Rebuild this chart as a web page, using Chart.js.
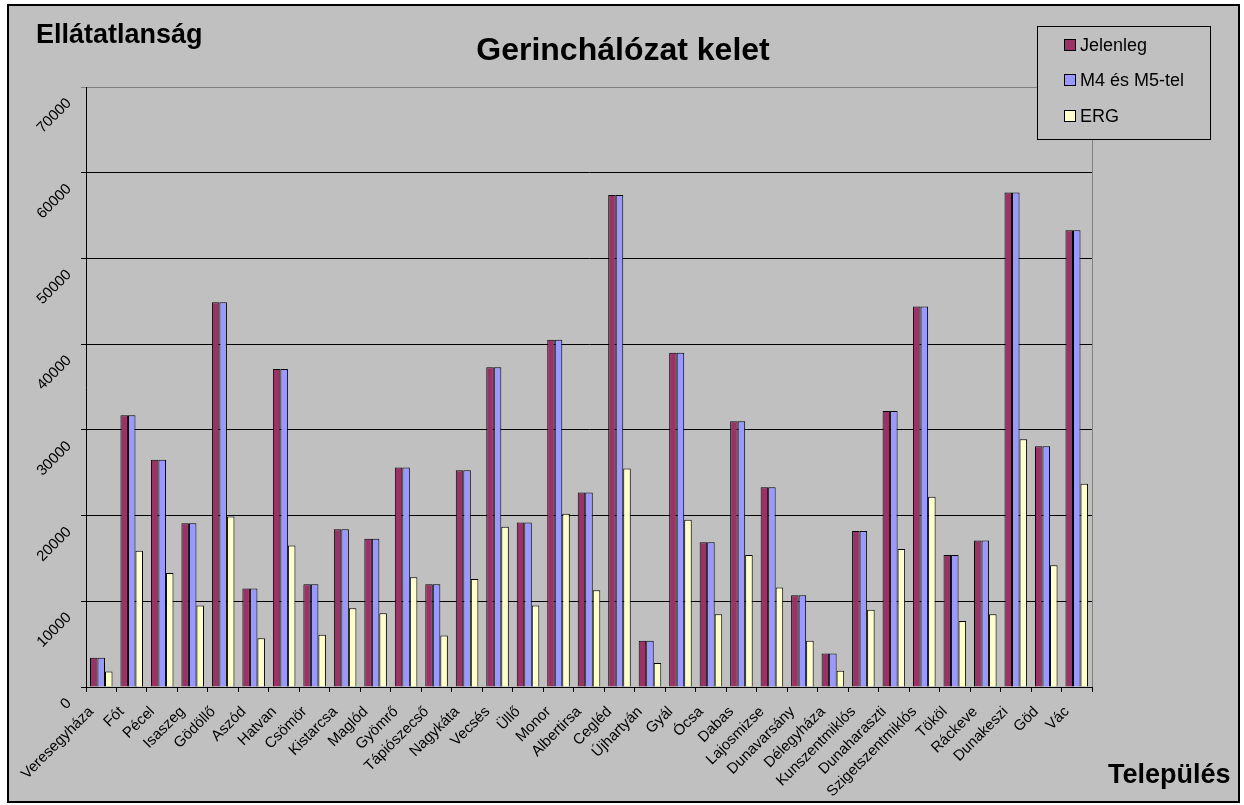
<!DOCTYPE html>
<html>
<head>
<meta charset="utf-8">
<script src="https://cdn.jsdelivr.net/npm/chart.js@4.4.0/dist/chart.umd.min.js"></script>
<style>
  html, body { margin: 0; padding: 0; background: #fff; }
  #wrap { width: 1244px; height: 805px; }
</style>
</head>
<body>
<div id="wrap"><canvas id="chart" width="1244" height="805"></canvas></div>
<script>
const categories = ['Veresegyháza', 'Fót', 'Pécel', 'Isaszeg', 'Gödöllő', 'Aszód', 'Hatvan', 'Csömör',
    'Kistarcsa', 'Maglód', 'Gyömrő', 'Tápiószecső', 'Nagykáta', 'Vecsés', 'Üllő', 'Monor', 'Albertirsa',
    'Cegléd', 'Újhartyán', 'Gyál', 'Ócsa', 'Dabas', 'Lajosmizse', 'Dunavarsány', 'Délegyháza',
    'Kunszentmiklós', 'Dunaharaszti', 'Szigetszentmiklós', 'Tököl', 'Ráckeve', 'Dunakeszi', 'Göd', 'Vác'];

const jelenleg = [3400, 31700, 26500, 19100, 44900, 11500, 37100, 12000, 18400, 17300, 25600, 12000, 25300,
    37300, 19200, 40500, 22700, 57400, 5400, 39000, 16900, 31000, 23300, 10700, 3900, 18200, 32200, 44400,
    15400, 17100, 57700, 28100, 53300];

const m4m5 = [3400, 31700, 26500, 19100, 44900, 11500, 37100, 12000, 18400, 17300, 25600, 12000, 25300,
    37300, 19200, 40500, 22700, 57400, 5400, 39000, 16900, 31000, 23300, 10700, 3900, 18200, 32200, 44400,
    15400, 17100, 57700, 28100, 53300];

const erg = [1800, 15900, 13300, 9500, 19900, 5700, 16500, 6100, 9200, 8600, 12800, 6000, 12600, 18700,
    9500, 20200, 11300, 25500, 2800, 19500, 8500, 15400, 11600, 5400, 1900, 9000, 16100, 22200, 7700,
    8500, 28900, 14200, 23700];

const seriesNames = ['Jelenleg', 'M4 és M5-tel', 'ERG'];
const seriesColors = ['#993366', '#9999FF', '#FFFFCC'];
const yMax = 70000;
const yStep = 10000;

const FONT = "'Liberation Sans', Arial, sans-serif";

// background, frame, titles and the legend box
const decor = {
    id: 'decor',
    beforeDraw(chart) {
        const ctx = chart.ctx;
        ctx.save();
        ctx.fillStyle = '#fff';
        ctx.fillRect(0, 0, chart.width, chart.height);
        ctx.fillStyle = '#C0C0C0';
        ctx.fillRect(8, 5, 1231, 797);
        ctx.strokeStyle = '#000';
        ctx.lineWidth = 2;
        ctx.strokeRect(8, 5, 1231, 797);
        // plot border (grey)
        const a = chart.chartArea;
        ctx.strokeStyle = '#808080';
        ctx.lineWidth = 1;
        ctx.strokeRect(a.left + 0.5, a.top + 0.5, a.right - a.left, a.bottom - a.top);
        ctx.restore();
    },
    afterDraw(chart) {
        const ctx = chart.ctx;
        ctx.save();
        ctx.fillStyle = '#000';
        ctx.textBaseline = 'alphabetic';

        ctx.font = 'bold 32px ' + FONT;
        ctx.textAlign = 'center';
        ctx.fillText('Gerinchálózat kelet', 623, 60);

        ctx.font = 'bold 27px ' + FONT;
        ctx.textAlign = 'left';
        ctx.fillText('Ellátatlanság', 36, 43);
        ctx.fillText('Település', 1108, 783);

        // legend
        ctx.fillStyle = '#C0C0C0';
        ctx.fillRect(1037, 26, 173, 113);
        ctx.strokeStyle = '#000';
        ctx.lineWidth = 1;
        ctx.strokeRect(1037.5, 26.5, 173, 113);
        ctx.font = '18px ' + FONT;
        ctx.textBaseline = 'middle';
        const rows = [45, 80, 116];
        chart.data.datasets.forEach((ds, i) => {
            ctx.fillStyle = ds.backgroundColor;
            ctx.fillRect(1064.5, rows[i] - 5.5, 11, 11);
            ctx.strokeRect(1064.5, rows[i] - 5.5, 11, 11);
            ctx.fillStyle = '#000';
            ctx.fillText(ds.label, 1080, rows[i] + 1);
        });
        ctx.restore();
    }
};

const ctx = document.getElementById('chart').getContext('2d');
const chart = new Chart(ctx, {
    type: 'bar',
    data: {
        labels: categories,
        datasets: [jelenleg, m4m5, erg].map((vals, i) => ({
            label: seriesNames[i],
            data: vals,
            backgroundColor: seriesColors[i],
            borderColor: '#000',
            borderWidth: 1,
            categoryPercentage: 0.74,
            barPercentage: 1.0
        }))
    },
    options: {
        responsive: false,
        animation: false,
        devicePixelRatio: 1,
        layout: { padding: { left: 0, top: 87, right: 152, bottom: 0 } },
        plugins: {
            legend: { display: false },
            title: { display: false },
            tooltip: { enabled: false }
        },
        scales: {
            x: {
                grid: { display: true, drawOnChartArea: false, color: '#000', tickLength: 5, offset: true },
                border: { color: '#000' },
                ticks: {
                    autoSkip: false, minRotation: 45, maxRotation: 45, padding: 11, labelOffset: -10,
                    color: '#000', font: { family: FONT, size: 15 }
                },
                afterFit(scale) { scale.height = 118; }
            },
            y: {
                min: 0,
                max: yMax,
                grid: {
                    color: c => (c.tick && c.tick.value === yMax) ? '#808080' : '#000',
                    tickLength: 5
                },
                border: { color: '#000' },
                ticks: {
                    stepSize: yStep, minRotation: 45, maxRotation: 45, padding: 12, labelOffset: 14,
                    color: '#000', font: { family: FONT, size: 15 },
                    callback: v => String(v)
                },
                afterFit(scale) { scale.width = 86; }
            }
        }
    },
    plugins: [decor]
});
</script>
</body>
</html>
